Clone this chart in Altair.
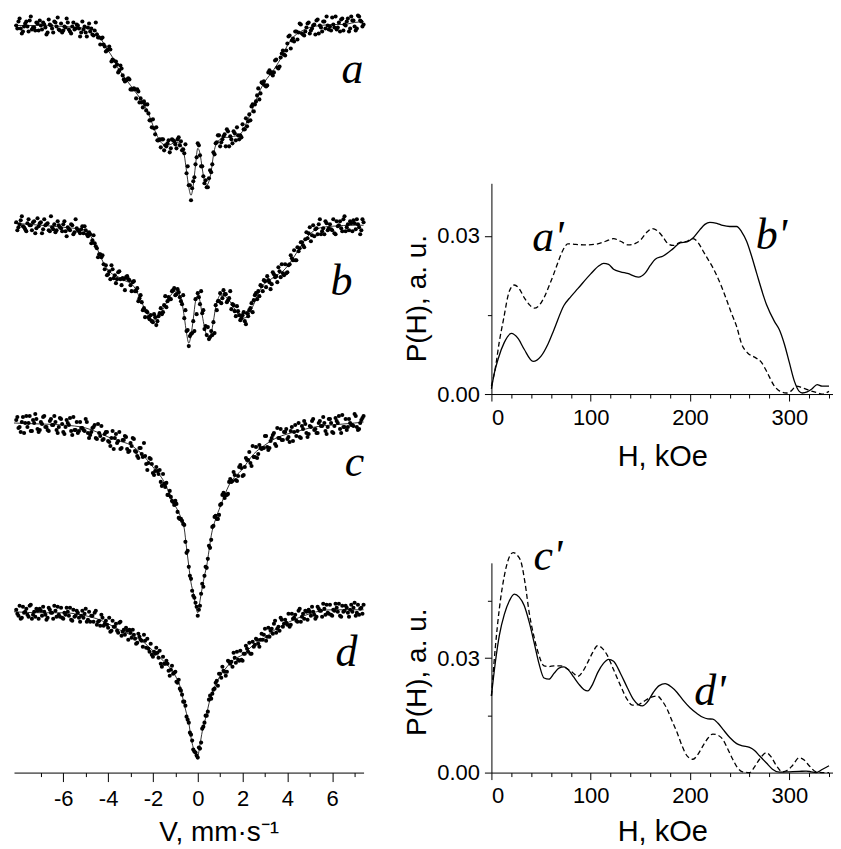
import altair as alt
import pandas as pd

# ---------------- Mossbauer spectra (left panel) ----------------
# velocity channels: two interleaved sets, 0.1 mm/s apart
V1_START, V1_N = -8.1, 156
V2_START, V2_N = -8.05, 155
V_STEP = 0.1
velocity1 = [round(V1_START + i * V_STEP, 2) for i in range(V1_N)]
velocity2 = [round(V2_START + i * V_STEP, 2) for i in range(V2_N)]

# measured absorption (a.u., relative to each spectrum's baseline, downward positive)
pts_a = [0, -4, 3, 6, -2, 1, -5, 4, 2, -3,
         5, 0, -3, 2, 7, -1, 3, -4, 1, 4,
         -2, 5, 2, -3, 6, 1, 4, -1, 3, 7,
         4, 7, 2, 6, 9, 5, 9, 12, 13, 19,
         26, 24, 24, 34, 41, 39, 45, 43, 54, 55,
         53, 64, 64, 64, 64, 77, 77, 76, 85, 88,
         95, 94, 109, 115, 114, 114, 125, 121, 115, 123,
         115, 119, 114, 120, 125, 128, 148, 160, 175, 156,
         139, 118, 130, 141, 158, 162, 153, 147, 127, 118,
         110, 121, 114, 109, 104, 121, 114, 106, 115, 110,
         110, 99, 104, 101, 89, 81, 86, 76, 63, 68,
         58, 60, 60, 45, 47, 47, 34, 43, 32, 25,
         30, 18, 10, 15, 16, 6, 7, -1, 9, 6,
         -2, 8, 3, -1, -5, 8, 2, -4, 3, 0,
         1, -8, 2, 4, -3, -6, 5, 0, -7, 3,
         -5, 1, 3, -9, -4, -1]
pts2_a = [3, -7, 8, 1, -4, 6, -9, 2, 5, -2,
          -5, 4, -1, 9, -6, 0, 7, -3, -8, 5,
          7, 1, -7, 4, 8, -3, 3, 0, 11, -4,
          1, 11, -2, 3, 10, -3, 12, 19, 12, 21,
          25, 21, 36, 35, 36, 47, 40, 50, 56, 54,
          54, 64, 63, 73, 66, 73, 82, 79, 79, 95,
          102, 103, 102, 115, 122, 114, 120, 118, 127, 114,
          116, 123, 112, 116, 124, 119, 141, 160, 163, 152,
          132, 120, 141, 151, 155, 162, 145, 139, 129, 117,
          110, 117, 111, 121, 106, 111, 118, 108, 102, 114,
          112, 104, 93, 96, 95, 79, 79, 70, 74, 57,
          56, 61, 47, 48, 50, 35, 42, 41, 28, 29,
          25, 11, 23, 13, 6, 14, -2, 8, 10, 2,
          -3, 5, 0, 9, -6, 0, 6, -4, -9, 4,
          5, -1, -9, 2, 6, -7, -1, -4, 6, -9,
          -5, 5, -10, -5, 1]
pts_b = [-3, 2, -5, 1, 4, -2, 0, 5, -4, 3,
         1, -3, 4, 0, -2, 6, 2, -1, 5, 0,
         3, -1, 6, 2, 5, 0, 7, 3, 6, 4,
         8, 5, 11, 9, 15, 18, 23, 29, 32, 39,
         40, 49, 54, 44, 50, 54, 46, 60, 54, 52,
         54, 60, 57, 66, 63, 73, 77, 83, 86, 92,
         90, 97, 92, 96, 88, 89, 80, 82, 72, 74,
         65, 70, 64, 72, 79, 93, 106, 121, 109, 96,
         74, 68, 79, 88, 104, 110, 114, 106, 97, 80,
         76, 68, 73, 69, 77, 73, 84, 80, 91, 86,
         95, 90, 96, 88, 85, 78, 75, 68, 66, 60,
         66, 56, 51, 57, 59, 49, 51, 42, 52, 48,
         39, 47, 39, 33, 25, 35, 26, 17, 20, 14,
         13, 2, 10, 11, 3, -1, 9, 3, -4, 5,
         -1, 5, 8, -4, 0, 3, -6, 6, -1, -4,
         6, -2, -6, 2, 5, -3]
pts2_b = [5, -1, -9, 2, 6, -6, 0, -3, 8, -7,
          -2, 8, -6, -1, 5, -9, 4, 7, -4, 2,
          6, -4, 11, 4, -1, 9, -6, 5, 8, 1,
          1, 9, 7, 18, 10, 21, 32, 29, 30, 44,
          50, 46, 40, 53, 58, 47, 54, 53, 65, 51,
          55, 66, 56, 66, 76, 70, 85, 92, 87, 94,
          96, 89, 100, 91, 83, 87, 71, 76, 74, 66,
          63, 69, 67, 76, 70, 85, 105, 111, 108, 106,
          89, 72, 66, 85, 101, 102, 112, 110, 108, 85,
          76, 78, 65, 69, 75, 66, 79, 86, 81, 90,
          93, 87, 99, 91, 83, 87, 70, 74, 71, 61,
          55, 62, 55, 64, 47, 52, 57, 46, 39, 50,
          48, 40, 30, 35, 35, 22, 23, 17, 22, 7,
          8, 16, 0, 4, 9, -6, 6, 9, -2, 3,
          4, -6, 9, 1, -4, 6, -9, 2, 5, -2,
          -5, 4, -1, 9, -6]
pts_c = [-3, 5, 9, -6, 0, 4, -7, 8, 0, -4,
         9, -1, -6, 4, 7, -2, 2, -7, 7, 4,
         -4, 9, 4, 0, -5, 12, 7, -1, 8, 5,
         7, -4, 10, 12, 5, 2, 16, 10, 3, 16,
         9, 18, 23, 8, 15, 20, 9, 25, 17, 14,
         29, 20, 15, 28, 33, 25, 31, 20, 41, 40,
         36, 50, 48, 48, 47, 63, 61, 60, 72, 74,
         79, 78, 89, 96, 98, 102, 130, 144, 156, 173,
         180, 193, 183, 161, 153, 145, 123, 117, 103, 93,
         96, 82, 72, 75, 72, 59, 59, 49, 57, 53,
         42, 53, 44, 37, 29, 43, 34, 24, 31, 25,
         25, 13, 24, 25, 15, 10, 23, 15, 6, 17,
         9, 16, 19, 4, 9, 13, 0, 15, 6, 1,
         14, 3, -2, 7, 10, 0, 3, -6, 8, 4,
         -4, 9, 3, -2, -7, 10, 4, -4, 4, 0,
         2, -9, 4, 6, -3, -7]
pts2_c = [-6, 4, -1, 10, -7, 0, 8, -3, -9, 6,
          7, 1, -7, 4, 8, -4, 2, -1, 10, -5,
          1, 11, -3, 2, 8, -6, 7, 10, -1, 5,
          8, -1, 15, 9, 4, 15, 1, 13, 17, 11,
          9, 19, 15, 26, 11, 18, 26, 17, 13, 26,
          28, 23, 16, 29, 35, 25, 34, 33, 47, 35,
          41, 52, 44, 51, 59, 51, 64, 72, 68, 78,
          82, 81, 95, 96, 101, 119, 128, 153, 168, 175,
          184, 187, 171, 164, 144, 136, 125, 104, 94, 96,
          92, 81, 70, 72, 71, 56, 58, 52, 58, 44,
          45, 52, 35, 37, 40, 23, 34, 35, 22, 26,
          25, 13, 27, 18, 12, 21, 5, 15, 17, 9,
          6, 14, 8, 18, 2, 8, 14, 3, -2, 10,
          11, 4, -4, 6, 10, -2, 3, 0, 11, -4,
          0, 10, -5, 0, 6, -8, 4, 7, -4, 2,
          3, -7, 7, 0, -5]
pts_d = [0, 6, 9, -3, 2, 5, -4, 9, 2, -1,
         9, 1, -3, 5, 8, 0, 3, -4, 7, 5,
         -2, 9, 5, 2, -2, 11, 7, 1, 8, 6,
         8, -1, 10, 12, 6, 3, 15, 11, 5, 16,
         11, 18, 22, 11, 17, 21, 13, 26, 20, 18,
         30, 23, 20, 29, 33, 27, 31, 25, 38, 39,
         34, 47, 44, 43, 41, 57, 54, 51, 61, 60,
         64, 62, 73, 79, 85, 92, 107, 113, 125, 140,
         143, 148, 139, 119, 113, 106, 90, 89, 80, 73,
         76, 64, 57, 62, 62, 52, 52, 43, 53, 50,
         41, 51, 44, 39, 33, 44, 37, 29, 34, 30,
         30, 19, 27, 27, 19, 14, 23, 17, 8, 17,
         10, 15, 17, 4, 8, 11, 1, 12, 4, 1,
         10, 2, -3, 5, 7, -1, 1, -6, 5, 3,
         -5, 6, 1, -2, -6, 7, 2, -4, 3, 0,
         2, -7, 3, 5, -2, -5]
pts2_d = [4, -4, 8, 3, -1, 7, -5, 5, 7, 1,
          -1, 6, 2, 10, -2, 3, 9, 1, -3, 7,
          8, 3, -2, 6, 10, 0, 6, 3, 12, 1,
          4, 12, 2, 6, 12, 1, 12, 16, 8, 14,
          15, 8, 21, 17, 14, 23, 12, 22, 25, 21,
          20, 28, 25, 34, 24, 30, 37, 31, 29, 42,
          45, 42, 38, 48, 54, 47, 54, 54, 66, 56,
          63, 72, 70, 81, 92, 96, 110, 123, 131, 142,
          146, 138, 133, 117, 106, 102, 86, 84, 79, 71,
          64, 68, 61, 66, 51, 54, 57, 48, 42, 51,
          50, 44, 36, 42, 44, 32, 35, 30, 37, 24,
          25, 31, 18, 21, 24, 11, 19, 21, 10, 14,
          13, 4, 15, 9, 5, 12, -1, 7, 9, 2,
          0, 6, 2, 9, -3, 1, 7, -1, -5, 4,
          5, 0, -6, 2, 6, -4, 1, -2, 7, -5,
          -2, 6, -5, -1, 4]

# fitted curves (knots)
fit_a_v = [-8.2, -7.0, -6.0, -5.0, -4.6, -4.4, -4.2, -4.0, -3.8, -3.6, -3.4, -3.2, -3.0,
           -2.8, -2.6, -2.4, -2.2, -2.0, -1.8, -1.6, -1.4, -1.2, -1.0, -0.8, -0.7, -0.6,
           -0.5, -0.4, -0.3, -0.2, -0.1, 0.0, 0.1, 0.2, 0.3, 0.4, 0.5, 0.6, 0.7, 0.8, 1.0,
           1.2, 1.4, 1.6, 1.8, 2.0, 2.2, 2.4, 2.6, 2.8, 3.0, 3.2, 3.4, 3.6, 3.8, 4.0, 4.2,
           4.4, 4.6, 5.0, 5.5, 6.0, 6.5, 7.0, 7.4]
fit_a = [0, 0, 1, 3, 5, 10, 18, 25, 32, 41, 48, 54, 60,
         66, 72, 79, 88, 100, 111, 118, 120, 119, 117, 118, 122, 130,
         146, 162, 170, 160, 140, 123, 128, 143, 156, 160, 156, 146, 130, 120, 114,
         112, 112, 111, 110, 106, 96, 86, 75, 64, 56, 50, 44, 37, 29, 20, 13,
         9, 6, 2, 0, -1, -1, -3, -4]
fit_b_v = [-8.2, -7.0, -6.0, -5.0, -4.8, -4.6, -4.4, -4.2, -4.0, -3.8, -3.6, -3.4, -3.2,
           -3.0, -2.8, -2.6, -2.4, -2.2, -2.0, -1.8, -1.6, -1.4, -1.2, -1.0, -0.8, -0.7,
           -0.6, -0.5, -0.4, -0.3, -0.2, -0.1, 0.0, 0.1, 0.2, 0.3, 0.4, 0.5, 0.6, 0.7,
           0.8, 0.9, 1.0, 1.2, 1.4, 1.6, 1.8, 2.0, 2.2, 2.4, 2.6, 2.8, 3.0, 3.2, 3.4,
           3.6, 3.8, 4.0, 4.2, 4.4, 4.6, 4.8, 5.0, 5.4, 6.0, 7.0, 7.4]
fit_b = [-2, 0, 2, 5, 10, 18, 28, 38, 45, 49, 51, 54, 56,
         58, 63, 72, 82, 90, 95, 93, 86, 78, 70, 66, 70, 78,
         92, 108, 118, 110, 94, 76, 70, 76, 90, 102, 110, 112, 108, 96,
         82, 74, 70, 71, 75, 82, 89, 93, 92, 84, 74, 64, 58, 55, 52,
         49, 46, 41, 35, 28, 21, 14, 9, 3, 1, 0, 0]
fit_c_v = [-8.2, -7.0, -6.0, -5.0, -4.5, -4.0, -3.5, -3.0, -2.5, -2.0, -1.5, -1.2, -1.0,
           -0.8, -0.6, -0.5, -0.4, -0.3, -0.2, -0.1, 0.0, 0.1, 0.2, 0.3, 0.4, 0.5, 0.6,
           0.8, 1.0, 1.4, 2.0, 2.5, 3.0, 3.5, 4.0, 4.5, 5.0, 5.5, 6.0, 7.0, 7.4]
fit_c = [0, 1, 2, 5, 9, 14, 18, 22, 31, 44, 59, 74, 83,
         92, 106, 125, 143, 160, 170, 182, 190, 178, 165, 153, 143, 128, 113,
         96, 84, 62, 46, 31, 22, 15, 11, 8, 5, 3, 2, 0, -1]
fit_d_v = [-8.2, -7.0, -6.0, -5.0, -4.5, -4.0, -3.5, -3.0, -2.5, -2.0, -1.5, -1.0,
           -0.8, -0.6, -0.5, -0.4, -0.3, -0.2, -0.1, 0.0, 0.1, 0.2, 0.3, 0.4, 0.5, 0.6,
           0.8, 1.0, 1.2, 1.6, 2.0, 2.5, 3.0, 3.5, 4.0, 4.5, 5.0, 5.5, 6.0, 7.0, 7.4]
fit_d = [2, 3, 3, 6, 9, 14, 20, 25, 31, 41, 52, 66,
         76, 95, 104, 113, 128, 138, 144, 146, 135, 122, 113, 104, 94, 86,
         75, 66, 60, 50, 45, 35, 28, 19, 13, 8, 4, 1, 0, 0, 0]

# stacking offsets of the four spectra (a.u.)
stack_offset = {"a": 22, "b": 222, "c": 420, "d": 607}

spec_labels = ["a", "b", "c", "d"]
spec_label_v = [6.9, 6.42, 7.0, 6.64]
spec_label_y = [80, 292, 473, 663]

# ---------------- P(H) distributions (right panels) ----------------
bp_H = [0, 3, 7, 13, 20, 27, 33, 42, 50, 57, 63, 73, 80, 87, 100, 108, 113, 118, 123, 130,
        137, 148, 155, 160, 165, 173, 183, 190, 197, 203, 210, 215, 220, 227, 233, 240, 247,
        252, 257, 262, 267, 277, 285, 290, 295, 300, 305, 310, 313, 318, 323, 328, 333, 340,
        345, 350]
bp_P = [0.0010, 0.0040, 0.0068, 0.0098, 0.0115, 0.0105, 0.0085, 0.0062, 0.0072, 0.0095,
        0.0122, 0.0168, 0.0185, 0.0200, 0.0228, 0.0243, 0.0248, 0.0246, 0.0237, 0.0232,
        0.0229, 0.0222, 0.0230, 0.0244, 0.0256, 0.0262, 0.0276, 0.0287, 0.0289, 0.0296,
        0.0312, 0.0322, 0.0326, 0.0324, 0.0320, 0.0318, 0.0318, 0.0308, 0.0290, 0.0262,
        0.0230, 0.0170, 0.0138, 0.0122, 0.0095, 0.0060, 0.0025, 0.0005, 0.0002, 0.0004,
        0.0010, 0.0018, 0.0015, 0.0015, 0.0020, 0.0020]
ap_H = [0, 4, 8, 12, 18, 23, 28, 33, 38, 43, 48, 53, 58, 63, 68, 72, 77, 85, 95, 107, 115,
        123, 130, 138, 145, 150, 157, 162, 167, 172, 178, 183, 190, 197, 203, 208, 213, 218,
        223, 230, 237, 242, 247, 252, 258, 265, 272, 278, 284, 290, 297, 302, 307, 313, 320,
        327, 333, 340, 345, 350]
ap_P = [0.0015, 0.0050, 0.0100, 0.0140, 0.0195, 0.0207, 0.0200, 0.0183, 0.0170, 0.0163,
        0.0168, 0.0183, 0.0205, 0.0229, 0.0255, 0.0273, 0.0285, 0.0284, 0.0283, 0.0285,
        0.0290, 0.0295, 0.0290, 0.0283, 0.0286, 0.0292, 0.0308, 0.0314, 0.0310, 0.0300,
        0.0285, 0.0282, 0.0288, 0.0290, 0.0295, 0.0288, 0.0272, 0.0256, 0.0240, 0.0212,
        0.0178, 0.0152, 0.0128, 0.0095, 0.0078, 0.0070, 0.0060, 0.0040, 0.0018, 0.0006,
        0.0002, 0.0006, 0.0015, 0.0012, 0.0007, 0.0003, 0.0000, 0.0005, 0.0012, 0.0015]
dp_H = [0, 4, 8, 13, 18, 23, 28, 33, 38, 43, 48, 53, 58, 63, 68, 73, 78, 83, 88, 93, 97,
        102, 107, 113, 118, 123, 130, 137, 143, 148, 152, 157, 163, 169, 175, 181, 187, 193,
        200, 207, 213, 218, 223, 228, 233, 240, 247, 253, 260, 265, 270, 277, 283, 290, 300,
        310, 317, 322, 327, 333, 340, 345, 350]
dp_P = [0.0201, 0.0290, 0.0360, 0.0415, 0.0450, 0.0468, 0.0460, 0.0438, 0.0395, 0.0341,
        0.0285, 0.0248, 0.0245, 0.0260, 0.0274, 0.0277, 0.0268, 0.0250, 0.0232, 0.0218,
        0.0214, 0.0232, 0.0262, 0.0287, 0.0297, 0.0292, 0.0260, 0.0222, 0.0192, 0.0178,
        0.0175, 0.0185, 0.0210, 0.0228, 0.0233, 0.0225, 0.0210, 0.0190, 0.0170, 0.0155,
        0.0145, 0.0141, 0.0140, 0.0130, 0.0114, 0.0092, 0.0076, 0.0070, 0.0066, 0.0058,
        0.0044, 0.0025, 0.0009, 0.0001, 0.0002, 0.0003, 0.0004, 0.0002, 0.0000, 0.0008,
        0.0018, 0.0016, 0.0008]
cp_H = [0, 4, 8, 13, 18, 22, 26, 30, 34, 38, 43, 47, 53, 58, 63, 70, 77, 82, 87, 92, 97,
        102, 107, 112, 117, 123, 130, 136, 142, 148, 153, 160, 167, 172, 177, 182, 187, 192,
        197, 203, 208, 213, 218, 223, 228, 233, 238, 243, 248, 253, 260, 265, 270, 277, 282,
        287, 293, 298, 303, 310, 315, 320, 327, 333, 340, 345, 350]
cp_P = [0.0201, 0.0330, 0.0430, 0.0516, 0.0565, 0.0577, 0.0570, 0.0551, 0.0495, 0.0420,
        0.0355, 0.0315, 0.0280, 0.0278, 0.0280, 0.0280, 0.0271, 0.0262, 0.0252, 0.0265,
        0.0289, 0.0315, 0.0333, 0.0325, 0.0306, 0.0270, 0.0228, 0.0195, 0.0177, 0.0178,
        0.0186, 0.0197, 0.0201, 0.0188, 0.0166, 0.0135, 0.0105, 0.0070, 0.0044, 0.0035,
        0.0048, 0.0070, 0.0090, 0.0101, 0.0098, 0.0087, 0.0062, 0.0035, 0.0012, 0.0002,
        0.0000, 0.0015, 0.0035, 0.0052, 0.0040, 0.0018, 0.0002, 0.0006, 0.0018, 0.0039,
        0.0033, 0.0018, 0.0002, 0.0000, 0.0000, 0.0001, 0.0001]

top_labels = ["a'", "b'"]
top_label_H = [57, 282]
top_label_P = [0.0272, 0.0276]
bot_labels = ["c'", "d'"]
bot_label_H = [57, 220]
bot_label_P = [0.053, 0.0176]

# visible field window of the P(H) panels (kOe)
H_MAX = 344

# ---------------- tables ----------------
rows = []
sets1 = [pts_a, pts_b, pts_c, pts_d]
sets2 = [pts2_a, pts2_b, pts2_c, pts2_d]
for name, p1, p2 in zip(spec_labels, sets1, sets2):
    assert len(p1) == V1_N and len(p2) == V2_N, (name, len(p1), len(p2))
    for v, d in zip(velocity1, p1):
        rows.append({"V": v, "Y": d + stack_offset[name], "spec": name})
    for v, d in zip(velocity2, p2):
        rows.append({"V": v, "Y": d + stack_offset[name], "spec": name})
pts_df = pd.DataFrame(rows)

rows = []
for name, vv, ff in zip(spec_labels, [fit_a_v, fit_b_v, fit_c_v, fit_d_v], [fit_a, fit_b, fit_c, fit_d]):
    assert len(vv) == len(ff), name
    for v, d in zip(vv, ff):
        rows.append({"V": v, "Y": d + stack_offset[name], "spec": name})
fit_df = pd.DataFrame(rows)
lab_df = pd.DataFrame({"V": spec_label_v, "Y": spec_label_y, "label": spec_labels})

BLACK = "#000000"
LABEL_FONT = "Liberation Sans"

left_axis = alt.Axis(
    values=list(range(-7, 8)),
    labelExpr="datum.value % 2 == 0 ? '' + datum.value : ''",
    tickSize={"condition": {"test": "datum.value % 2 == 0", "value": 9}, "value": 4},
    labelFontSize=22, labelPadding=7, labelBaseline="top",
    title="V, mm\u00b7s\u207b\u00b9", titleFontSize=28,
    titleX=205, titleY=68, titleAlign="center", titleBaseline="alphabetic",
)
xs = alt.X("V:Q", scale=alt.Scale(domain=[-8.2, 7.4], nice=False, zero=False), axis=left_axis)
ys = alt.Y("Y:Q", scale=alt.Scale(domain=[12, 770], reverse=True, nice=False, zero=False), axis=None)

left_pts = alt.Chart(pts_df).mark_circle(size=17, color=BLACK, opacity=1).encode(x=xs, y=ys)
left_fit = alt.Chart(fit_df).mark_line(color=BLACK, strokeWidth=0.8, interpolate="monotone").encode(
    x=xs, y=ys, detail="spec:N")
left_lab = alt.Chart(lab_df).mark_text(font="Liberation Serif", fontStyle="italic", fontSize=44,
                                       align="center", baseline="alphabetic", color=BLACK).encode(
    x=xs, y=ys, text="label:N")
left = alt.layer(left_pts, left_fit, left_lab).properties(width=350, height=758)


def panel(solid_H, solid_P, dash_H, dash_P, lab_txt, lab_H, lab_P, ymax, yvals, height,
          title_y, ytitle_y, lab_pad):
    sdf = pd.DataFrame({"H": solid_H, "P": solid_P})
    ddf = pd.DataFrame({"H": dash_H, "P": dash_P})
    ldf = pd.DataFrame({"H": lab_H, "P": lab_P, "label": lab_txt})
    xax = alt.Axis(
        values=list(range(0, 341, 20)),
        labelExpr="datum.value % 100 == 0 ? '' + datum.value : ''",
        tickSize={"condition": {"test": "datum.value % 100 == 0", "value": 7}, "value": 4},
        labelFontSize=22, labelPadding=lab_pad, labelBaseline="top",
        title="H, kOe", titleFontSize=29, titleY=title_y, titleBaseline="alphabetic",
    )
    yax = alt.Axis(
        values=yvals,
        labelExpr="round(datum.value * 1000) % 30 == 0 ? format(datum.value, '.2f') : ''",
        tickSize={"condition": {"test": "round(datum.value * 1000) % 30 == 0", "value": 7}, "value": 4},
        labelFontSize=22, labelPadding=5,
        title="P(H), a. u.", titleFontSize=28, titleAngle=270, titleX=-66, titleY=ytitle_y,
        titleAlign="center", titleBaseline="alphabetic",
    )
    x = alt.X("H:Q", scale=alt.Scale(domain=[0, H_MAX], nice=False, zero=False), axis=xax)
    y = alt.Y("P:Q", scale=alt.Scale(domain=[0, ymax], nice=False, zero=False), axis=yax)
    s = alt.Chart(sdf).transform_filter(alt.datum.H <= H_MAX).mark_line(
        color=BLACK, strokeWidth=1.3, interpolate="monotone").encode(x=x, y=y)
    d = alt.Chart(ddf).transform_filter(alt.datum.H <= H_MAX).mark_line(
        color=BLACK, strokeWidth=1.3, strokeDash=[5, 3], interpolate="monotone").encode(x=x, y=y)
    t = alt.Chart(ldf).mark_text(font="Liberation Serif", fontStyle="italic", fontSize=44,
                                 align="center", baseline="alphabetic", color=BLACK).encode(
        x=x, y=y, text="label:N")
    return alt.layer(s, d, t).properties(width=342, height=height)


top = panel(bp_H, bp_P, ap_H, ap_P, top_labels, top_label_H, top_label_P,
            0.04, [0, 0.015, 0.03], 211, 72, 115, 6)
bottom = panel(dp_H, dp_P, cp_H, cp_P, bot_labels, bot_label_H, bot_label_P,
               0.055, [0, 0.015, 0.03, 0.045], 210, 68, 109, 6)

spacer = alt.Chart(pd.DataFrame({"s": [0]})).mark_point(opacity=0).encode(
    x=alt.X("s:Q", axis=None), y=alt.Y("s:Q", axis=None)).properties(width=342, height=20)

right_col = alt.vconcat(spacer, alt.vconcat(top, bottom, spacing=169, bounds="flush"),
                        spacing=148, bounds="flush")

chart = alt.hconcat(left, right_col, spacing=128, bounds="flush").properties(
    padding={"left": 4, "top": 4, "right": 0, "bottom": 0},
    background="white",
).configure_view(stroke=None, fill="white").configure_axis(
    grid=False, labelFont=LABEL_FONT, titleFont=LABEL_FONT, titleFontWeight="normal",
    labelColor=BLACK, titleColor=BLACK, domainColor=BLACK, tickColor=BLACK,
    domainWidth=1, tickWidth=1,
)

chart.save("out.html", embed_options={"renderer": "svg", "actions": False})
